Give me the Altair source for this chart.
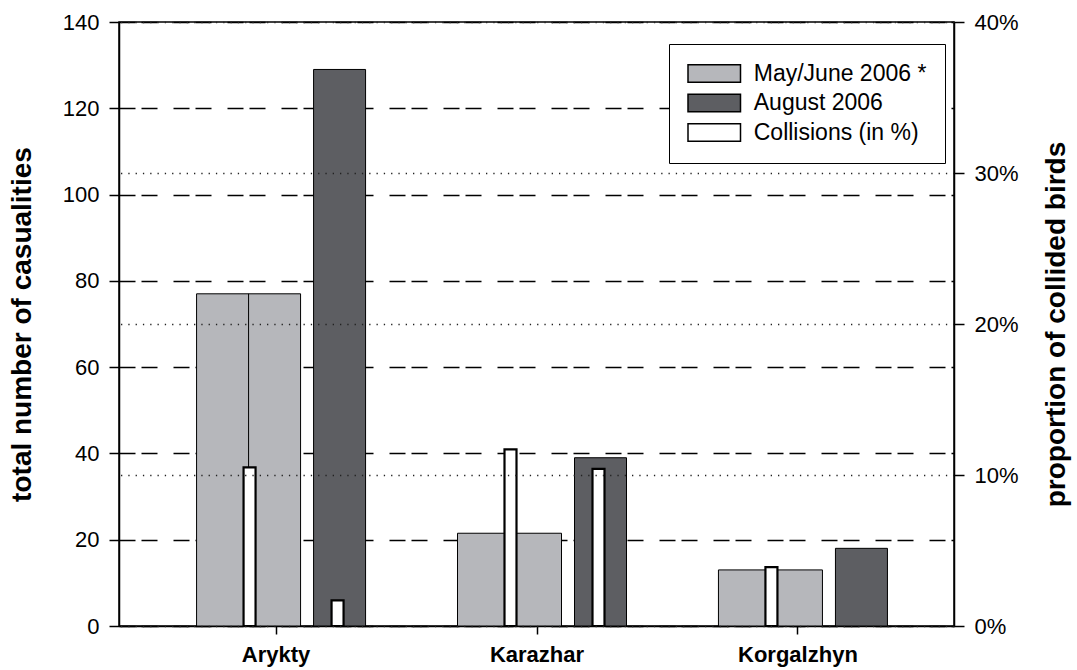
import altair as alt
import pandas as pd

# ---- data ----
sites = ["Arykty", "Karazhar", "Korgalzhyn"]
may_june = [77, 21.5, 13]          # total casualties, May/June 2006
august = [129, 39, 18]           # total casualties, August 2006
coll_may = [0.105, 0.117, 0.039]  # collisions share, May/June
coll_aug = [0.017, 0.104, None]   # collisions share, August

series_names = ["May/June 2006 *", "August 2006", "Collisions (in %)"]
series_colors = ["#b6b7bb", "#5d5e62", "#ffffff"]

may_df = pd.DataFrame({"site": sites, "value": may_june, "series": series_names[0]})
aug_df = pd.DataFrame({"site": sites, "value": august, "series": series_names[1]})
cm_df = pd.DataFrame({"site": sites, "pct": coll_may, "series": series_names[2]})
ca_df = pd.DataFrame({"site": sites, "pct": coll_aug, "series": series_names[2]}).dropna()

FONT = "Liberation Sans"

xenc = alt.X(
    "site:N",
    sort=sites,
    scale=alt.Scale(type="point", padding=0.6),
    axis=alt.Axis(
        title=None, labelAngle=0, labelFontWeight="bold", labelFontSize=22,
        labelPadding=10, tickSize=8, tickColor="black", tickWidth=1.5,
        domainColor="black", domainWidth=1.5, labelColor="black", labelFont=FONT,
    ),
)

color = alt.Color(
    "series:N",
    scale=alt.Scale(domain=series_names, range=series_colors),
    legend=alt.Legend(
        title=None, orient="none", legendX=550, legendY=22,
        symbolType="M-2.5,-0.833L2.5,-0.833L2.5,0.833L-2.5,0.833Z", symbolSize=441,
        symbolOffset=15.75,
        symbolStrokeColor="black", symbolStrokeWidth=1.5, symbolOpacity=1,
        labelFontSize=23, labelFont=FONT, labelColor="black", labelOffset=28,
        padding=18, rowPadding=4.5, strokeColor="black", fillColor="white",
        labelLimit=400,
    ),
)

yleft_scale = alt.Scale(domain=[0, 140], nice=False)
yleft_axis = alt.Axis(
    values=[0, 20, 40, 60, 80, 100, 120, 140], grid=True,
    gridDash=[16, 6, 16, 16], gridColor="black", gridWidth=1.5,
    tickSize=10, tickColor="black", tickWidth=1.5, labelPadding=10,
    labelFontSize=22, labelFont=FONT, labelColor="black",
    domainColor="black", domainWidth=1.5,
    title="total number of casualities", titleFontSize=28, titleFont=FONT,
    titleFontWeight="bold", titleColor="black", titleAngle=270,
    titleX=-97, titleY=302, titleAlign="center", titleBaseline="middle",
)

may_bars = alt.Chart(may_df).mark_bar(
    width=104, xOffset=-27, stroke="black", strokeWidth=1
).encode(x=xenc, y=alt.Y("value:Q", scale=yleft_scale, axis=yleft_axis), color=color)

may_mid = alt.Chart(may_df).mark_rule(xOffset=-27, color="black", strokeWidth=1).encode(
    x=alt.X("site:N", sort=sites), y=alt.Y("value:Q"), y2=alt.datum(0)
)

aug_bars = alt.Chart(aug_df).mark_bar(
    width=52, xOffset=64, stroke="black", strokeWidth=1
).encode(x=alt.X("site:N", sort=sites), y=alt.Y("value:Q"), color=color)

left = alt.layer(may_bars, may_mid, aug_bars)

yright_scale = alt.Scale(domain=[0, 0.4], nice=False)
yright_axis = alt.Axis(
    orient="right", values=[0, 0.1, 0.2, 0.3, 0.4], format=".0%", grid=True,
    gridDash=[1.3, 6], gridColor="#222222", gridWidth=1.3, zindex=1,
    tickSize=10, tickColor="black", tickWidth=1.5, labelPadding=10,
    labelFontSize=22, labelFont=FONT, labelColor="black",
    domainColor="black", domainWidth=1.5,
    title="proportion of collided birds", titleFontSize=28, titleFont=FONT,
    titleFontWeight="bold", titleColor="black", titleAngle=270,
    titleX=102, titleY=302, titleAlign="center", titleBaseline="middle",
)

cm_bars = alt.Chart(cm_df).mark_bar(
    width=12, xOffset=-26, stroke="black", strokeWidth=2.2
).encode(x=alt.X("site:N", sort=sites), y=alt.Y("pct:Q", scale=yright_scale, axis=yright_axis), color=color)

ca_bars = alt.Chart(ca_df).mark_bar(
    width=12, xOffset=62, stroke="black", strokeWidth=2.2
).encode(x=alt.X("site:N", sort=sites), y=alt.Y("pct:Q"), color=color)

right = alt.layer(cm_bars, ca_bars)

chart = (
    alt.layer(left, right)
    .resolve_scale(y="independent")
    .properties(
        width=835, height=604,
        autosize=alt.AutoSizeParams(type="none"),
        padding={"left": 119, "top": 22, "right": 123, "bottom": 44},
        background="white",
    )
    .configure_view(stroke="black", strokeWidth=1.5)
)

chart.save("out.html", embed_options={"renderer": "svg", "actions": False})
